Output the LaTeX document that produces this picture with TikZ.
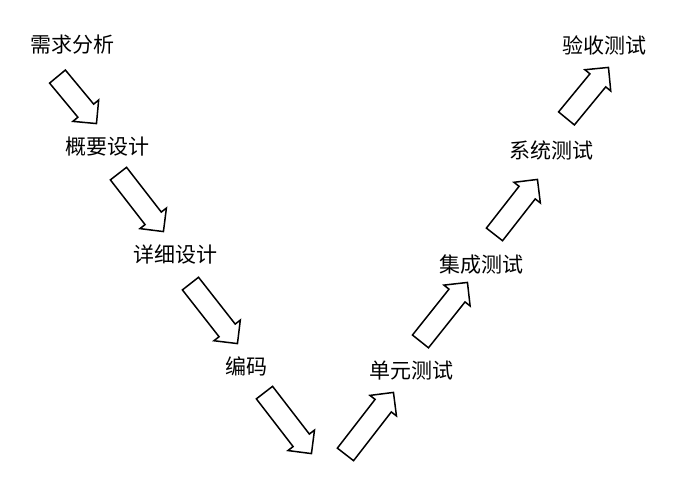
\documentclass[tikz,border=0pt]{standalone}
\usepackage{fontspec}
\newfontfamily\cjk{Noto Sans CJK SC}
\usetikzlibrary{shapes.arrows,calc}
\newcommand\blkarrow[3]{%
  \path let \p1=($(#3)-(#2)$), \n1={atan2(\y1,\x1)}, \n2={veclen(\x1,\y1)} in
    node[blk, anchor=tail, rotate=\n1, minimum height=\n2] (#1) at (#2) {};}
\begin{document}
\begin{tikzpicture}[
    x=1pt, y=-1pt,
    lbl/.style={font=\cjk\fontsize{21}{24}\selectfont, inner sep=0pt},
    blk/.style={single arrow, draw, line width=1.5pt, inner xsep=0pt, inner ysep=9.5pt,
      single arrow head extend=6.5pt, single arrow tip angle=90}
]
    \useasboundingbox (0,0) rectangle (677,477);
    % left branch
    \node[lbl] (xq) at (72,45) {需求分析};
    \node[lbl] (gy) at (107,147) {概要设计};
    \node[lbl] (xx) at (175,255) {详细设计};
    \node[lbl] (bm) at (246,366) {编码};
    % right branch
    \node[lbl] (dy) at (411,371) {单元测试};
    \node[lbl] (jc) at (481,265) {集成测试};
    \node[lbl] (xt) at (551,150) {系统测试};
    \node[lbl] (ys) at (604,45) {验收测试};

    \coordinate (t1) at (57,76);   \coordinate (h1) at (96,123);
    \coordinate (t2) at (118,173); \coordinate (h2) at (163,231);
    \coordinate (t3) at (190,283); \coordinate (h3) at (237,343);
    \coordinate (t4) at (264,392); \coordinate (h4) at (311,453);
    \coordinate (t5) at (345,455); \coordinate (h5) at (393,393);
    \coordinate (t6) at (420,342); \coordinate (h6) at (467,283);
    \coordinate (t7) at (494,235); \coordinate (h7) at (537,180);
    \coordinate (t8) at (566,119); \coordinate (h8) at (608,68);
    \foreach \i in {1,...,8} {\blkarrow{a\i}{t\i}{h\i}}
\end{tikzpicture}
\end{document}
